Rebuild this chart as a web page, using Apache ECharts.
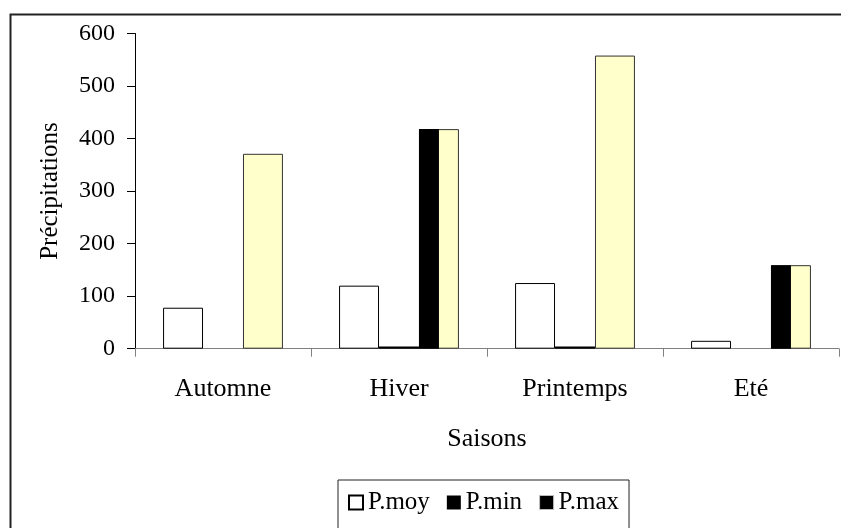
<!DOCTYPE html>
<html>
<head>
<meta charset="utf-8">
<script src="https://cdn.jsdelivr.net/npm/echarts@6/dist/echarts.min.js"></script>
<style>html,body{margin:0;padding:0;background:#fff}#c{width:841px;height:528px}</style>
</head>
<body>
<div id="c"></div>
<script>
var categories = ['Automne', 'Hiver', 'Printemps', 'Eté'];
var pMoy = [78, 120, 125, 15];
var pMin = [0, 4, 4, 0];
var pMax = [371, 418, 558, 159];
var pMaxDark = ['-', 418, '-', 159];
var yTicks = { min: 0, max: 600, step: 100 };

var FONT = 'Liberation Serif';
var chart = echarts.init(document.getElementById('c'));
var empty = categories.map(function () { return '-'; });

chart.setOption({
  animation: false,
  backgroundColor: '#fff',
  textStyle: { fontFamily: FONT, color: '#000' },
  graphic: [{
    type: 'rect', left: 8, top: 12, silent: true,
    shape: { x: 0, y: 0, width: 1000, height: 1000 },
    style: { fill: null, stroke: '#222', lineWidth: 2 }
  }],
  grid: { left: 135, right: 2, top: 33.5, bottom: 179.3, containLabel: false },
  legend: {
    data: [
      { name: 'P.moy', icon: 'rect' },
      { name: 'P.min', icon: 'rect' },
      { name: 'P.max', icon: 'rect', itemStyle: { color: '#000', borderColor: '#bbb', borderWidth: 1 } }
    ],
    left: 338, top: 480,
    borderColor: '#222', borderWidth: 1,
    padding: [10, 10, 20, 10],
    itemWidth: 14, itemHeight: 14, itemGap: 17,
    textStyle: { fontFamily: FONT, fontSize: 25, color: '#000' }
  },
  xAxis: [{
    type: 'category', data: categories,
    axisLine: { lineStyle: { color: '#808080', width: 1 } },
    axisTick: { show: true, length: 8, lineStyle: { color: '#808080' } },
    axisLabel: { fontFamily: FONT, fontSize: 26, color: '#000', margin: 27 },
    name: 'Saisons', nameLocation: 'middle', nameGap: 77,
    nameTextStyle: { fontFamily: FONT, fontSize: 26, color: '#000' }
  }, {
    type: 'category', data: categories, show: false
  }],
  yAxis: {
    type: 'value', min: yTicks.min, max: yTicks.max, interval: yTicks.step,
    axisLine: { show: true, lineStyle: { color: '#000', width: 1 } },
    axisTick: { show: true, length: 8, lineStyle: { color: '#000' } },
    splitLine: { show: false },
    axisLabel: { fontFamily: FONT, fontSize: 24, color: '#000', margin: 20 },
    name: 'Précipitations', nameLocation: 'middle', nameGap: 72, nameRotate: 90,
    nameTextStyle: { fontFamily: FONT, fontSize: 25, color: '#000' }
  },
  series: [
    { name: 'P.moy', type: 'bar', data: pMoy, barWidth: '22.7%', barGap: '0%',
      itemStyle: { color: '#fff', borderColor: '#000', borderWidth: 1 } },
    { name: 'P.min', type: 'bar', data: pMin, barWidth: '22.7%', barGap: '0%',
      itemStyle: { color: '#000', borderWidth: 0 } },
    { name: 'P.max', type: 'bar', data: pMax, barWidth: '22.7%', barGap: '0%',
      itemStyle: { color: '#FFFFCC', borderColor: '#333', borderWidth: 1 } },
    { name: 'o1', type: 'bar', xAxisIndex: 1, data: empty, barWidth: '22.7%', barGap: '0%' },
    { name: 'o2', type: 'bar', xAxisIndex: 1, data: empty, barWidth: '22.7%', barGap: '0%' },
    { name: 'o3', type: 'bar', xAxisIndex: 1, data: pMaxDark, barWidth: '11.35%', barGap: '0%', z: 5,
      itemStyle: { color: '#000' } },
    { name: 'o4', type: 'bar', xAxisIndex: 1, data: empty, barWidth: '11.35%', barGap: '0%' }
  ]
});
</script>
</body>
</html>
